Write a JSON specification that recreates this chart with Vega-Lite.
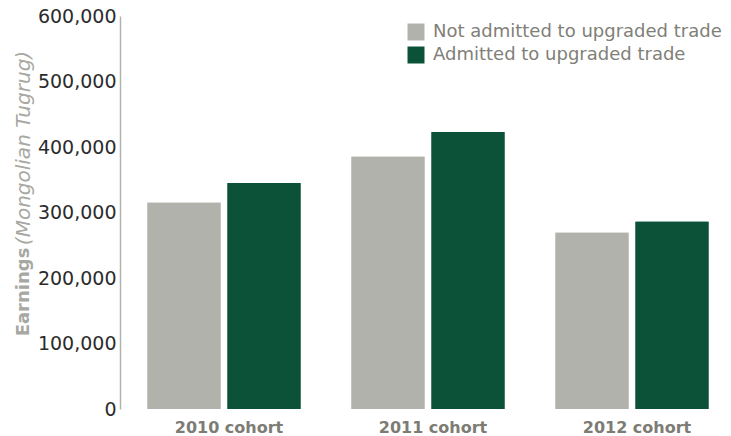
{
  "$schema": "https://vega.github.io/schema/vega-lite/v6.json",
  "width": 612,
  "height": 393,
  "autosize": "none",
  "padding": {"left": 122, "top": 16, "right": 0, "bottom": 27},
  "background": "white",
  "config": {"view": {"stroke": null}, "font": "DejaVu Sans"},
  "data": {"values": [
    {"cohort": "2010 cohort", "group": "Not admitted to upgraded trade", "earnings": 315000},
    {"cohort": "2010 cohort", "group": "Admitted to upgraded trade", "earnings": 345000},
    {"cohort": "2011 cohort", "group": "Not admitted to upgraded trade", "earnings": 385000},
    {"cohort": "2011 cohort", "group": "Admitted to upgraded trade", "earnings": 423000},
    {"cohort": "2012 cohort", "group": "Not admitted to upgraded trade", "earnings": 269000},
    {"cohort": "2012 cohort", "group": "Admitted to upgraded trade", "earnings": 286000}
  ]},
  "layer": [
    {
      "mark": {"type": "bar"},
      "encoding": {
        "x": {"field": "cohort", "type": "nominal",
          "scale": {"paddingInner": 0.25, "paddingOuter": 0.125},
          "axis": {"title": null, "domain": false, "ticks": false, "labelAngle": 0, "labelPadding": 10, "labelOffset": 5,
            "labelFontSize": 16, "labelFontWeight": "bold", "labelColor": "#7c7c74"}},
        "xOffset": {"field": "group", "type": "nominal",
          "sort": ["Not admitted to upgraded trade", "Admitted to upgraded trade"],
          "scale": {"paddingInner": 0.0875, "paddingOuter": 0}},
        "y": {"field": "earnings", "type": "quantitative",
          "scale": {"domain": [0, 600000]},
          "axis": {"orient": "left", "offset": 2, "values": [0, 100000, 200000, 300000, 400000, 500000, 600000],
            "format": ",d", "grid": false, "ticks": false, "domainColor": "#b2b2ad", "domainWidth": 1.5,
            "labelPadding": 4, "labelFontSize": 19, "labelColor": "#2b2b2b",
            "title": "Earnings", "titleFontSize": 18, "titleFontWeight": "bold", "titleColor": "#a8a8a2",
            "titleX": -97, "titleY": 275.5, "titleAngle": -90, "titleAlign": "center", "titleBaseline": "middle"}},
        "color": {"field": "group", "type": "nominal",
          "scale": {"domain": ["Not admitted to upgraded trade", "Admitted to upgraded trade"], "range": ["#b2b2ad", "#0b5239"]},
          "legend": {"title": null, "orient": "none", "legendX": 285, "legendY": 7, "labelLimit": 400,
            "symbolType": "square", "symbolSize": 289, "symbolStrokeWidth": 0, "symbolOpacity": 1,
            "labelFontSize": 18, "labelColor": "#808078", "labelFontWeight": 500, "labelOffset": 8, "rowPadding": 5}}
      }
    },
    {
      "mark": {"type": "bar"},
      "encoding": {
        "x": {"field": "cohort", "type": "nominal"},
        "xOffset": {"field": "group", "type": "nominal",
          "sort": ["Not admitted to upgraded trade", "Admitted to upgraded trade"]},
        "y": {"field": "earnings", "type": "quantitative",
          "axis": {"orient": "left", "offset": 2, "labels": false, "ticks": false, "domain": false, "grid": false,
            "title": "(Mongolian Tugrug)", "titleFontSize": 20, "titleFontWeight": "normal", "titleFontStyle": "italic",
            "titleColor": "#a8a8a2", "titleX": -97, "titleY": 131.5, "titleAngle": -90, "titleAlign": "center", "titleBaseline": "middle"}},
        "color": {"field": "group", "type": "nominal", "legend": null}
      }
    }
  ],
  "resolve": {"axis": {"y": "independent"}}
}
